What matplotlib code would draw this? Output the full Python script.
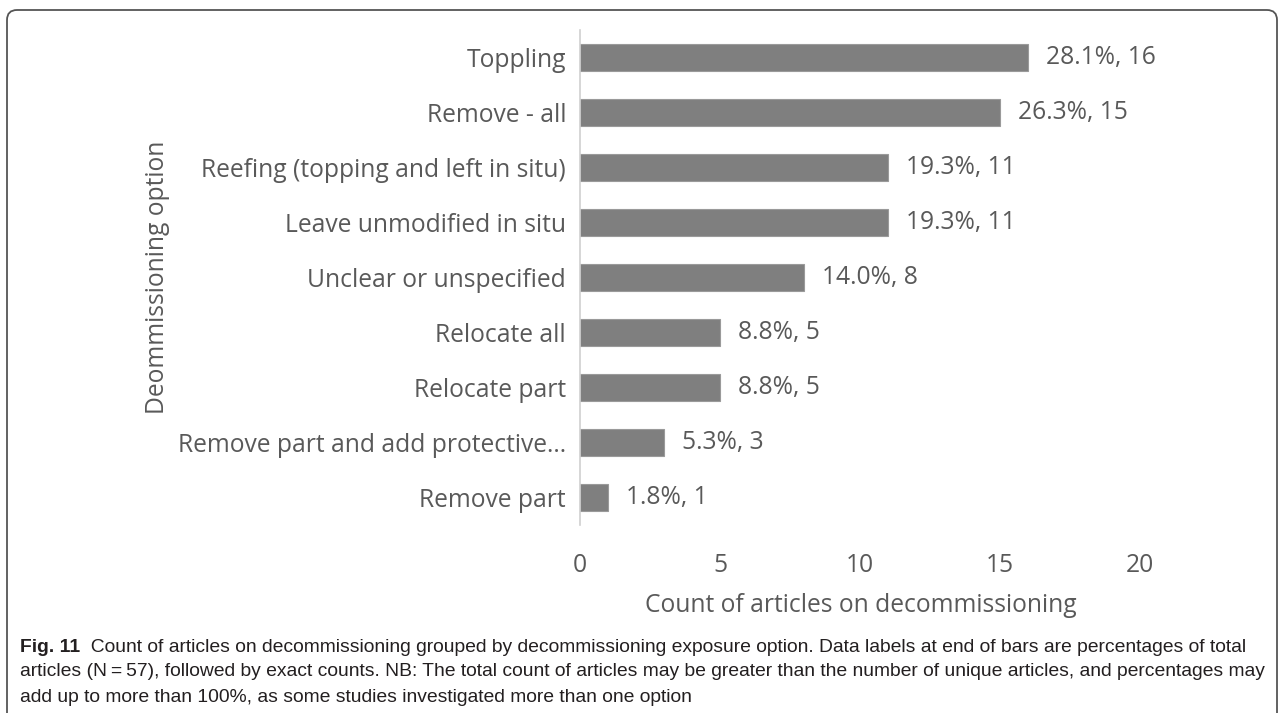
import matplotlib
matplotlib.use("Agg")
import matplotlib.pyplot as plt
from matplotlib.patches import FancyBboxPatch

# data (top to bottom as shown)
options = [
    "Toppling",
    "Remove - all",
    "Reefing (topping and left in situ)",
    "Leave unmodified in situ",
    "Unclear or unspecified",
    "Relocate all",
    "Relocate part",
    "Remove part and add protective...",
    "Remove part",
]
counts = [16, 15, 11, 11, 8, 5, 5, 3, 1]
percents = [28.1, 26.3, 19.3, 19.3, 14.0, 8.8, 8.8, 5.3, 1.8]
x_ticks = [0, 5, 10, 15, 20]

caption_lines = [
    "Count of articles on decommissioning grouped by decommissioning exposure option. Data labels at end of bars are percentages of total",
    "articles (N\u2009=\u200957), followed by exact counts. NB: The total count of articles may be greater than the number of unique articles, and percentages may",
    "add up to more than 100%, as some studies investigated more than one option",
]

txt_col = "#595959"
bar_col = "#7f7f7f"
chart_font = ["Open Sans", "DejaVu Sans"]
cap_font = ["Liberation Sans", "DejaVu Sans"]
fs = 17.7
cfs = 13.9

W, H = 1284, 713
fig = plt.figure(figsize=(W / 100, H / 100), dpi=100, facecolor="white")

# rounded frame round the figure (bottom runs off the page)
frame = FancyBboxPatch((7 / W, -0.05), 1 - 14 / W, 1 - 10 / H + 0.05,
                       boxstyle="round,pad=0,rounding_size=%f" % (10 / W),
                       transform=fig.transFigure, fill=False,
                       edgecolor="#555555", linewidth=1.3, mutation_aspect=W / H)
fig.patches.append(frame)

ax = fig.add_axes([580 / W, 1 - 525 / H, 560 / W, 495 / H])
ypos = list(range(len(options)))
ax.barh(ypos, counts, height=0.5, color=bar_col, edgecolor="#9a9a9a", linewidth=0.8)
ax.set_ylim(len(options) - 0.5, -0.5)
ax.set_xlim(0, 20)

for y, c, p in zip(ypos, counts, percents):
    ax.annotate(f"{p:.1f}%, {c}", (c, y), xytext=(13, 0), textcoords="offset points",
                va="center", ha="left", fontsize=fs, color=txt_col, family=chart_font)

ax.set_yticks(ypos)
ax.set_yticklabels(options, fontsize=fs, color=txt_col, family=chart_font)
ax.set_xticks(x_ticks)
ax.set_xticklabels([str(t) for t in x_ticks], fontsize=fs, color=txt_col, family=chart_font)
ax.tick_params(axis="both", length=0)
ax.tick_params(axis="y", pad=10)
ax.tick_params(axis="x", pad=20)

for s in ["top", "right", "bottom"]:
    ax.spines[s].set_visible(False)
ax.spines["left"].set_color("#d0d0d0")
ax.spines["left"].set_linewidth(1.2)

fig.text(861 / W, 1 - 605 / H, "Count of articles on decommissioning", ha="center",
         va="center", fontsize=fs, color=txt_col, family=chart_font)
fig.text(158 / W, 1 - 277 / H, "Deommissioning option", rotation=90, ha="center",
         va="center", fontsize=fs, color=txt_col, family=chart_font)

# caption
t0 = fig.text(20 / W, 1 - 647 / H, "Fig. 11", fontsize=cfs, fontweight="bold",
              family=cap_font, color="#231f20", va="center", ha="left")
ax.annotate("  " + caption_lines[0], xy=(1, 0.5), xycoords=t0, va="center", ha="left",
            fontsize=cfs, family=cap_font, color="#231f20", annotation_clip=False)
fig.text(20 / W, 1 - 672 / H, caption_lines[1], fontsize=cfs, family=cap_font,
         color="#231f20", va="center", ha="left")
fig.text(20 / W, 1 - 697 / H, caption_lines[2], fontsize=cfs, family=cap_font,
         color="#231f20", va="center", ha="left")

fig.savefig("out.png", dpi=100, facecolor="white")
